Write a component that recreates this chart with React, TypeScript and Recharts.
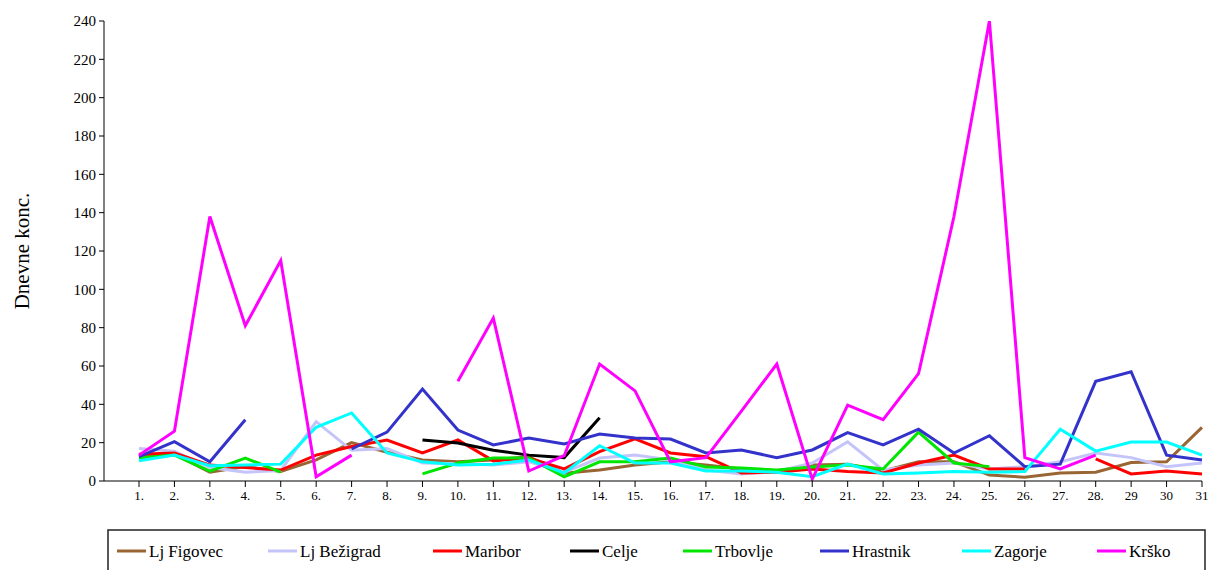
import React from "react";
import { LineChart, Line, XAxis, YAxis } from "recharts";

// days of the month
const days = [
  "1.", "2.", "3.", "4.", "5.", "6.", "7.", "8.", "9.", "10.",
  "11.", "12.", "13.", "14.", "15.", "16.", "17.", "18.", "19.", "20.",
  "21.", "22.", "23.", "24.", "25.", "26.", "27.", "28.", "29", "30", "31",
];

const yTicks = [0, 20, 40, 60, 80, 100, 120, 140, 160, 180, 200, 220, 240];

// daily concentrations per station (null = no measurement)
const figovec = [13, 14, 4.6, 7.5, 5, 11, 20, 15, 11, 10, 11, 12.7, 4, 5.7, 8.3, 10, 8.3, 6.3, 5.2, 8.3, 8.8, 5.2, 10, 10, 3.1, 2, 4.2, 4.6, 9.6, 10, 28];
const bezigrad = [17, 15.5, 7, 4.6, 5.5, 31, 16, 17, 9.4, 9, 8.3, 10, 4.6, 12, 13.5, 11, 5.7, 3.7, 5, 9.4, 20.5, 5.7, 8.3, 9.4, 6.3, 7.5, 10, 14.6, 12.2, 7.5, 9.4];
const maribor = [14, 14.6, 8.3, 7, 5.7, 13.5, 18, 21.4, 14.6, 21.4, 10.5, 12, 6.3, 15.3, 22, 14.6, 12.7, 4.2, 4.6, 6.3, 4.9, 4.2, 9.4, 13.5, 6.3, 6.3, null, 11.5, 3.7, 5.2, 3.7];
const celje = [null, null, null, null, null, null, null, null, 21.4, 19.8, 16, 13.5, 12.2, 33, null, null, null, null, null, null, null, null, null, null, null, null, null, null, null, null, null];
const trbovlje = [12, 13.5, 5.2, 12, 4.6, null, null, null, 3.7, 9.4, 12, 12, 2.2, 10, 10, 12, 7.3, 6.8, 5.7, 7.3, 8.3, 6.3, 25.5, 9.4, 7.5, null, null, null, null, null, null];
const hrastnik = [12.7, 20.5, 10, 32, null, null, 16.7, 25.5, 48, 26.6, 18.8, 22.4, 19.3, 24.5, 22.4, 21.9, 14.6, 16.2, 12.2, 16.2, 25.2, 18.8, 27, 14.6, 23.6, 7.5, 8.8, 52, 57, 13.5, 11];
const zagorje = [10.6, 13.5, 8, 8.3, 8.8, 28, 35.5, 14.6, 10, 8.3, 8.8, 11, 4.2, 18.4, 9.4, 9.4, 5.2, 5.2, 4.6, 2.2, 8.8, 3.7, 4.2, 4.9, 4.6, 4.9, 27, 15.6, 20.3, 20.3, 13.5];
const krsko = [13.5, 26, 138, 81, 115, 2.2, 13.5, null, null, 52, 85, 5.2, 13.2, 61, 47, 10, 12.2, 36.5, 61, 1, 39.6, 32, 56, 138, 240, 12.2, 6.3, 13.5, null, null, null];

const series = [
  { key: "figovec", name: "Lj Figovec", color: "#996633", values: figovec },
  { key: "bezigrad", name: "Lj Bežigrad", color: "#C4C4FA", values: bezigrad },
  { key: "maribor", name: "Maribor", color: "#FF0000", values: maribor },
  { key: "celje", name: "Celje", color: "#000000", values: celje },
  { key: "trbovlje", name: "Trbovlje", color: "#00E600", values: trbovlje },
  { key: "hrastnik", name: "Hrastnik", color: "#3333CC", values: hrastnik },
  { key: "zagorje", name: "Zagorje", color: "#00FFFF", values: zagorje },
  { key: "krsko", name: "Krško", color: "#FF00FF", values: krsko },
];

const data = days.map((day, i) => {
  const row: any = { day };
  series.forEach((s) => {
    row[s.key] = s.values[i];
  });
  return row;
});

// legend item x positions (line start) inside the page
const legendX = [117, 268, 433, 570, 683, 820, 962, 1097];

const font = "Liberation Serif";

export default function App() {
  return (
    <div style={{ position: "absolute", left: 0, top: 0, width: 1211, height: 570, background: "#fff", overflow: "hidden", fontFamily: font }}>
      <LineChart
        width={1211}
        height={570}
        data={data}
        margin={{ top: 21, right: 9, left: 44, bottom: 59 }}
      >
        <XAxis
          dataKey="day"
          interval={0}
          padding={{ left: 35, right: 0 }}
          height={30}
          tickSize={6}
          tickMargin={4}
          axisLine={{ stroke: "#000" }}
          tickLine={{ stroke: "#000" }}
          tick={{ fontSize: 13, fill: "#000", fontFamily: font }}
        />
        <YAxis
          domain={[0, 240]}
          ticks={yTicks}
          interval={0}
          width={60}
          tickSize={5}
          tickMargin={3}
          allowDataOverflow
          axisLine={{ stroke: "#000" }}
          tickLine={{ stroke: "#000" }}
          tick={{ fontSize: 15, fill: "#000", fontFamily: font }}
          label={{ value: "Dnevne konc.", angle: -90, position: "left", offset: 22, style: { fontSize: 21, fill: "#000", fontFamily: font, textAnchor: "middle" } }}
        />
        <YAxis
          yAxisId="frame"
          orientation="right"
          width={0}
          tick={false}
          tickLine={false}
          axisLine={{ stroke: "#808080", strokeWidth: 1.5 }}
        />
        {series.map((s) => (
          <Line
            key={s.key}
            dataKey={s.key}
            name={s.name}
            stroke={s.color}
            strokeWidth={3}
            dot={false}
            activeDot={false}
            connectNulls={false}
            isAnimationActive={false}
          />
        ))}
      </LineChart>
      <svg width={1211} height={570} style={{ position: "absolute", left: 0, top: 0 }}>
        <rect x={108} y={530} width={1097} height={60} fill="none" stroke="#222" strokeWidth={1.5} />
        {series.map((s, i) => (
          <g key={s.key}>
            <line x1={legendX[i]} x2={legendX[i] + 29} y1={551} y2={551} stroke={s.color} strokeWidth={3} />
            <text x={legendX[i] + 32} y={557} fontSize={17} fill="#000" fontFamily={font}>
              {s.name}
            </text>
          </g>
        ))}
      </svg>
    </div>
  );
}
